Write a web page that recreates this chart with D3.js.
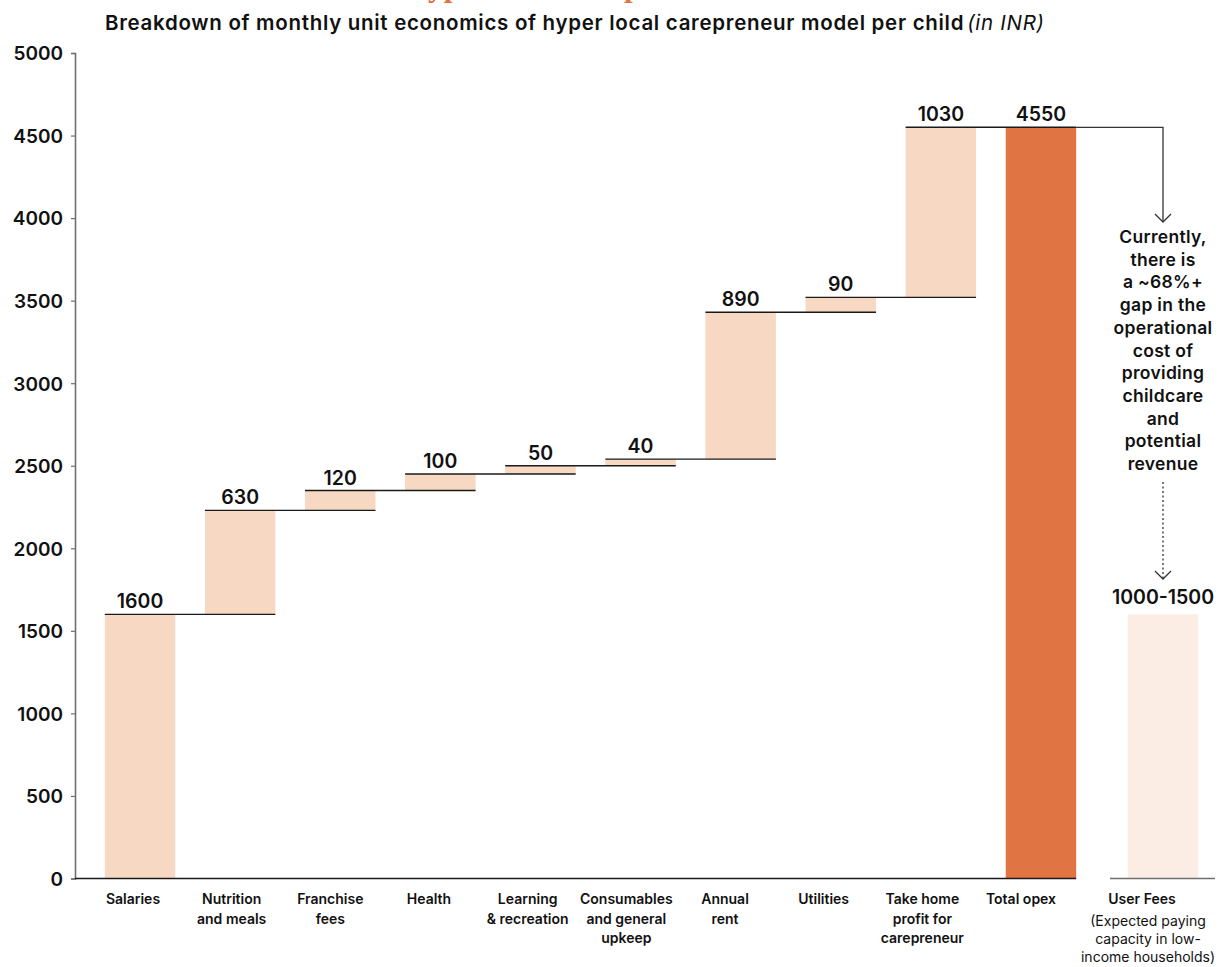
<!DOCTYPE html>
<html>
<head>
<meta charset="utf-8">
<script src="https://cdn.jsdelivr.net/npm/d3@7"></script>
<style>
  html, body { margin: 0; padding: 0; background: #ffffff; }
  svg { display: block; }
  text { font-family: "Inter", "Lato", sans-serif; fill: #111; }
</style>
</head>
<body>
<svg id="chart" width="1222" height="967"></svg>
<script>
// ---------- data ----------
const categories = ["Salaries", "Nutrition and meals", "Franchise fees", "Health",
  "Learning & recreation", "Consumables and general upkeep", "Annual rent",
  "Utilities", "Take home profit for carepreneur", "Total opex"];
const categoryLines = [["Salaries"], ["Nutrition", "and meals"], ["Franchise", "fees"], ["Health"],
  ["Learning", "& recreation"], ["Consumables", "and general", "upkeep"], ["Annual", "rent"],
  ["Utilities"], ["Take home", "profit for", "carepreneur"], ["Total opex"]];
const stepValues = [1600, 630, 120, 100, 50, 40, 890, 90, 1030];
const totalValue = 4550;
const userFeeCategory = "User Fees";
const userFeeBarValue = 1600;           // bar height as drawn
const userFeeLabel = "1000-1500";
const userFeeNote = ["(Expected paying", "capacity in low-", "income households)"];
const yTicks = [0, 500, 1000, 1500, 2000, 2500, 3000, 3500, 4000, 4500, 5000];
const titleText = "Breakdown of monthly unit economics of hyper local carepreneur model per child";
const titleUnit = "(in INR)";
const topTitle = "Unit economics of the hyper local carepreneur model";
const gapNote = ["Currently,", "there is", "a ~68%+", "gap in the", "operational", "cost of",
  "providing", "childcare", "and", "potential", "revenue"];

// ---------- colours ----------
const cStep = "#F6D8C3", cTotal = "#E07443", cFee = "#FBEDE4", cOrange = "#E07443";

// ---------- build waterfall records ----------
let run = 0;
const records = stepValues.map((v, i) => {
  const r = { cat: categories[i], start: run, end: run + v, label: String(v), total: false };
  run += v; return r;
});
records.push({ cat: categories[9], start: 0, end: totalValue, label: String(totalValue), total: true });

// ---------- scales ----------
const svg = d3.select("#chart");
const y = d3.scaleLinear().domain([0, 5000]).range([878.5, 53]);
const x = d3.scaleBand().domain(categories).range([90, 1091]).paddingInner(0.296).paddingOuter(0.148);
const xFee = d3.scaleBand().domain([userFeeCategory]).range([1113, 1213]).paddingInner(0.296).paddingOuter(0.148);
const xLab = d3.scalePoint().domain(categories).range([133, 1021]);

// ---------- cut-off orange headline ----------
const head = svg.append("text")
  .attr("y", -4)
  .style("font-family", "'Liberation Serif', serif")
  .style("font-weight", "700")
  .style("font-size", "30px")
  .style("fill", cOrange)
  .text(topTitle);
{
  const node = head.node();
  const iy = topTitle.indexOf("y");
  const ip = topTitle.indexOf("carep") + 4;
  const d = node.getStartPositionOfChar(ip).x - node.getStartPositionOfChar(iy).x;
  const fs = 30 * 196 / d;
  head.style("font-size", fs + "px");
  const off = node.getStartPositionOfChar(iy).x;
  head.attr("x", 428 - off);
}

// ---------- title ----------
const title = svg.append("text").attr("y", 30).style("font-size", "20.5px").style("font-weight", "600")
  .style("letter-spacing", "0.7px");
title.append("tspan").attr("x", 105).text(titleText);
title.append("tspan").attr("dx", 3).style("font-style", "italic").style("font-weight", "400").text(titleUnit);

// ---------- y axis ----------
const yAxis = svg.append("g").attr("transform", "translate(75,0)")
  .call(d3.axisLeft(y).tickValues(yTicks).tickSize(4).tickPadding(8).tickFormat(d3.format("d")));
yAxis.select(".domain").attr("stroke", "#6f6f6f").attr("stroke-width", 1.6);
yAxis.selectAll(".tick line").attr("stroke", "#6f6f6f").attr("stroke-width", 1.2);
yAxis.selectAll(".tick text").style("font-size", "19px").style("font-weight", "600")
  .style("font-family", "Inter, sans-serif").attr("fill", "#111").attr("dy", "0.36em");

// ---------- bars ----------
svg.append("g").selectAll("rect").data(records).join("rect")
  .attr("x", d => x(d.cat))
  .attr("width", x.bandwidth())
  .attr("y", d => y(d.end))
  .attr("height", d => y(d.start) - y(d.end))
  .attr("fill", d => d.total ? cTotal : cStep);

svg.append("rect")
  .attr("x", xFee(userFeeCategory)).attr("width", xFee.bandwidth())
  .attr("y", y(userFeeBarValue)).attr("height", y(0) - y(userFeeBarValue))
  .attr("fill", cFee);

// ---------- connectors ----------
const connectors = records.slice(0, 9).map((d, i) => ({
  x1: x(d.cat), x2: x(categories[i + 1]) + x.bandwidth(), yv: d.end
}));
svg.append("g").selectAll("line").data(connectors).join("line")
  .attr("x1", d => d.x1).attr("x2", d => d.x2)
  .attr("y1", d => y(d.yv)).attr("y2", d => y(d.yv))
  .attr("stroke", "#1a1a1a").attr("stroke-width", 1.4);

// ---------- baselines ----------
svg.append("line").attr("x1", 75).attr("x2", x(categories[9]) + x.bandwidth())
  .attr("y1", y(0)).attr("y2", y(0)).attr("stroke", "#1a1a1a").attr("stroke-width", 1.6);
svg.append("line").attr("x1", 1110).attr("x2", 1215)
  .attr("y1", y(0)).attr("y2", y(0)).attr("stroke", "#6f6f6f").attr("stroke-width", 1.6);

// ---------- value labels ----------
svg.append("g").selectAll("text").data(records).join("text")
  .attr("x", d => x(d.cat) + x.bandwidth() / 2)
  .attr("y", d => y(d.end) - 6)
  .attr("text-anchor", "middle")
  .style("font-size", "19.5px").style("font-weight", "600")
  .text(d => d.label);

const feeCx = xFee(userFeeCategory) + xFee.bandwidth() / 2;
svg.append("text").attr("x", feeCx).attr("y", y(userFeeBarValue) - 10)
  .attr("text-anchor", "middle").style("font-size", "19.5px").style("font-weight", "600")
  .text(userFeeLabel);

// ---------- x labels ----------
const xl = svg.append("g").selectAll("text").data(categories).join("text")
  .attr("text-anchor", "middle")
  .style("font-size", "14px").style("font-weight", "600");
xl.each(function(d, i) {
  d3.select(this).selectAll("tspan").data(categoryLines[i]).join("tspan")
    .attr("x", xLab(d)).attr("y", (t, j) => 904 + j * 19.5).text(t => t);
});

svg.append("text").attr("x", 1142).attr("y", 904).attr("text-anchor", "middle")
  .style("font-size", "14px").style("font-weight", "600").text(userFeeCategory);
svg.append("text").attr("text-anchor", "middle").style("font-size", "14px").style("font-weight", "400")
  .selectAll("tspan").data(userFeeNote).join("tspan")
  .attr("x", 1148).attr("y", (t, j) => 926 + j * 18).text(t => t);

// ---------- annotation ----------
const topY = y(totalValue);
const xEnd = x(categories[9]) + x.bandwidth();
svg.append("path")
  .attr("d", `M${xEnd},${topY}H${feeCx}V222`)
  .attr("fill", "none").attr("stroke", "#333").attr("stroke-width", 1.3);
svg.append("path")
  .attr("d", `M${feeCx - 8},214L${feeCx},222L${feeCx + 8},214`)
  .attr("fill", "none").attr("stroke", "#333").attr("stroke-width", 1.3);

svg.append("text").attr("text-anchor", "middle").style("font-size", "17.5px").style("font-weight", "600")
  .style("letter-spacing", "0.3px")
  .selectAll("tspan").data(gapNote).join("tspan")
  .attr("x", feeCx).attr("y", (t, j) => 243 + j * 22.7).text(t => t);

svg.append("line").attr("x1", feeCx).attr("x2", feeCx).attr("y1", 482).attr("y2", 579)
  .attr("stroke", "#333").attr("stroke-width", 1.3).attr("stroke-dasharray", "2,2.5");
svg.append("path")
  .attr("d", `M${feeCx - 8},571L${feeCx},579L${feeCx + 8},571`)
  .attr("fill", "none").attr("stroke", "#333").attr("stroke-width", 1.3);
</script>
</body>
</html>
